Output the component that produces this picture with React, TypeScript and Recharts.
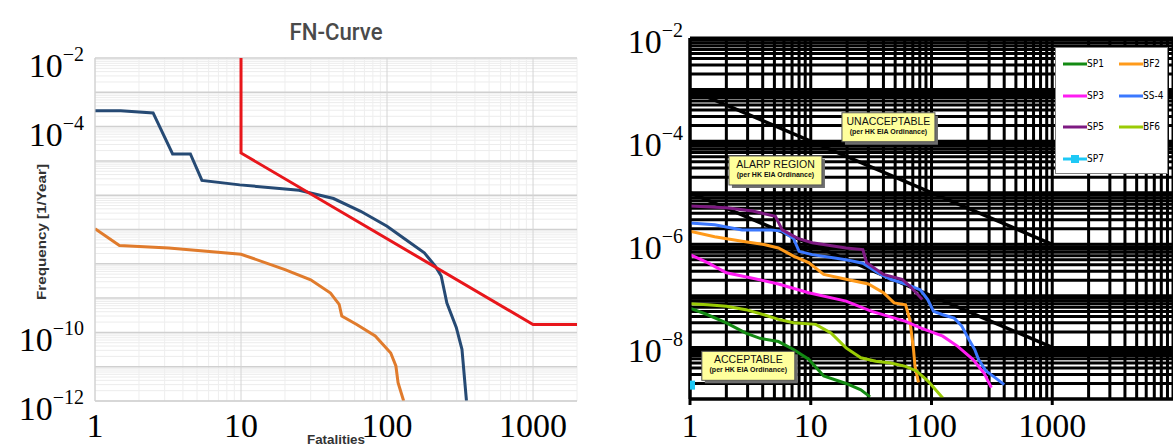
import {
  LineChart,
  Line,
  XAxis,
  YAxis,
  ReferenceLine,
  ReferenceDot,
  Legend,
} from "recharts"

const serif = "'Liberation Serif', 'DejaVu Serif', serif"
const sans = "'Liberation Sans', Arial, sans-serif"
const narrow = "'Liberation Sans Narrow', 'DejaVu Sans Condensed', 'Liberation Sans', sans-serif"

// ---- left panel: FN-Curve ----
const leftXTicks = [1, 10, 100, 1000]
const leftYTicks = [1e-2, 1e-4, 1e-10, 1e-12]

const criterionN = [10, 10, 1000, 2000]
const criterionF = [1e-2, 1.7e-5, 1.7e-10, 1.7e-10]

const blueN = [1, 1.5, 2.5, 3.4, 4.5, 5.4, 9.8, 25, 43, 66, 100, 134, 180, 214, 235, 257, 298, 326, 350]
const blueF = [2.9e-4, 2.9e-4, 2.5e-4, 1.6e-5, 1.6e-5, 2.7e-6, 2.0e-6, 1.4e-6, 8e-7, 3.4e-7, 1.25e-7, 5.1e-8, 2.1e-8, 8.5e-9, 4.4e-9, 7.2e-10, 1.4e-10, 3.2e-11, 1e-12]

const orangeN = [1, 1.47, 3.2, 10, 20, 30, 41, 47, 49, 62, 83, 106, 115, 119, 130]
const orangeF = [1.05e-7, 3.4e-8, 2.9e-8, 1.9e-8, 6.8e-9, 3.4e-9, 1.4e-9, 6.6e-10, 3e-10, 1.7e-10, 7.9e-11, 2.5e-11, 1.05e-11, 3.4e-12, 1e-12]

// ---- right panel: societal risk vs HK EIA criteria ----
const rightXTicks = [1, 10, 100, 1000]
const rightYTicks = [1e-2, 1e-4, 1e-6, 1e-8]

const upperN = [1, 1000]
const upperF = [1e-3, 1e-6]
const lowerN = [1, 1000]
const lowerF = [1e-5, 1e-8]

const sp1N = [1, 1.4, 2.0, 2.9, 3.8, 5.4, 7.2, 9.6, 12.8, 19.6, 26, 31]
const sp1F = [5.8e-8, 4.3e-8, 3e-8, 1.9e-8, 1.5e-8, 1.3e-8, 9.1e-9, 5.9e-9, 2.8e-9, 2e-9, 1.5e-9, 1.1e-9]
const bf2N = [1, 1.6, 2.7, 4.1, 5.4, 7.2, 9.6, 12.8, 19.6, 30, 40, 49, 61, 66, 71, 73, 78]
const bf2F = [1.8e-6, 1.4e-6, 1.15e-6, 9.9e-7, 8.5e-7, 5.9e-7, 4.4e-7, 2.6e-7, 2.1e-7, 1.7e-7, 1.15e-7, 7.3e-8, 6.7e-8, 3.5e-8, 9.1e-9, 4.3e-9, 2.1e-9]
const sp3N = [1, 1.4, 2.0, 3.3, 5.4, 9.6, 19.6, 32, 61, 81, 124, 165, 220, 272, 313]
const sp3F = [6.3e-7, 4.4e-7, 2.8e-7, 2.2e-7, 1.7e-7, 1.15e-7, 7.9e-8, 5e-8, 3.2e-8, 2.4e-8, 1.65e-8, 1.05e-8, 5.9e-9, 3.2e-9, 1.66e-9]
const ss4N = [1, 1.6, 2.7, 4.7, 5.8, 7.2, 8.0, 10.3, 19.6, 27, 37, 46, 61, 81, 93, 104, 124, 154, 178, 205, 228, 245, 283, 336, 400]
const ss4F = [2.6e-6, 2.4e-6, 1.9e-6, 1.9e-6, 1.8e-6, 1.3e-6, 7.3e-7, 6.3e-7, 5e-7, 4.3e-7, 2.7e-7, 2.1e-7, 1.7e-7, 1.3e-7, 8.5e-8, 5e-8, 4.3e-8, 3.7e-8, 2.6e-8, 1.4e-8, 9.1e-9, 5.9e-9, 3.5e-9, 2.6e-9, 1.9e-9]
const sp5N = [1, 2.0, 3.3, 5.1, 5.8, 7.8, 10.3, 19.6, 27, 29, 40, 57, 66, 84]
const sp5F = [5.5e-6, 5.1e-6, 4.4e-6, 3.5e-6, 1.9e-6, 1.3e-6, 1.07e-6, 8.5e-7, 7.9e-7, 4.4e-7, 2.6e-7, 2.1e-7, 1.55e-7, 8.5e-8]
const bf6N = [1, 1.4, 2.0, 2.9, 4.1, 5.4, 7.2, 11, 14.7, 19.6, 26, 34.5, 46, 61, 75, 94, 124]
const bf6F = [7e-8, 6.7e-8, 6.3e-8, 5.4e-8, 4.3e-8, 3.5e-8, 3e-8, 2.8e-8, 1.9e-8, 9.8e-9, 6.3e-9, 5.4e-9, 5e-9, 4.3e-9, 3.5e-9, 2.2e-9, 1.05e-9]
const sp7N = [1]
const sp7F = [1.9e-9]

const seriesNames = ["SP1", "BF2", "SP3", "SS-4", "SP5", "BF6", "SP7"]
const seriesColors = ["#138a13", "#ff9a1a", "#ff1cf2", "#3b78ff", "#7e1a82", "#9acb05", "#1ec8f5"]

const noteTitles = ["UNACCEPTABLE", "ALARP REGION", "ACCEPTABLE"]
const noteN = [44, 5.1, 3.04]
const noteF = [1.86e-4, 2.7e-5, 4.4e-9]

const zip = (n: number[], f: number[]) => n.map((v, i) => ({ n: v, f: f[i] }))

const rightSeries = [
  zip(sp1N, sp1F),
  zip(bf2N, bf2F),
  zip(sp3N, sp3F),
  zip(ss4N, ss4F),
  zip(sp5N, sp5F),
  zip(bf6N, bf6F),
  zip(sp7N, sp7F),
]

// log grid helpers (axis scaffolding only)
const decadeLines = (lo: number, hi: number) => {
  const out: number[] = []
  for (let e = lo; e <= hi; e++) out.push(10 ** e)
  return out
}
const minorLines = (lo: number, hi: number, max = Infinity) => {
  const out: number[] = []
  for (let e = lo; e < hi; e++) for (let k = 2; k <= 9; k++) if (k * 10 ** e <= max) out.push(k * 10 ** e)
  return out
}

function PowerTick(props: any) {
  const { x, y, payload, dy } = props
  const e = Math.round(Math.log10(payload.value))
  return (
    <text x={x} y={y + dy} textAnchor="end" fontFamily={serif} fontSize={34} fill="#000">
      10
      <tspan dy={-16} fontSize={20}>{`\u2212${-e}`}</tspan>
    </text>
  )
}

function PlainTick(props: any) {
  const { x, y, payload, dy } = props
  return (
    <text x={x} y={y + dy} textAnchor="middle" fontFamily={serif} fontSize={34} fill="#000">
      {payload.value}
    </text>
  )
}

function NoteBox(props: any) {
  const { cx, cy, title } = props
  const w = 93
  const h = 29
  const x0 = cx - w / 2
  const y0 = cy - h / 2
  return (
    <g>
      <rect x={x0 + 3} y={y0 + 3} width={w} height={h} fill="#6e6e6e" />
      <rect x={x0} y={y0} width={w} height={h} fill="#ffff9c" stroke="#555" strokeWidth={1} />
      <text x={cx} y={y0 + 12} textAnchor="middle" fontFamily={sans} fontSize={10.5} fill="#111">
        {title}
      </text>
      <text x={cx} y={y0 + 21} textAnchor="middle" fontFamily={sans} fontSize={7} fontWeight="bold" fill="#111">
        (per HK EIA Ordinance)
      </text>
    </g>
  )
}

function KeyBox(props: any) {
  const items = (props.payload || [])
    .filter((p: any) => seriesNames.includes(p.value))
    .sort((a: any, b: any) => seriesNames.indexOf(a.value) - seriesNames.indexOf(b.value))
  return (
    <div
      style={{
        position: "relative",
        width: 113,
        height: 127,
        background: "#fff",
        border: "1px solid #808080",
        boxSizing: "border-box",
      }}
    >
      {items.map((it: any, i: number) => {
        const col = i % 2
        const row = Math.floor(i / 2)
        return (
          <div
            key={it.value}
            style={{
              position: "absolute",
              left: 7 + col * 56,
              top: 9 + row * 31.5,
              height: 14,
              display: "flex",
              alignItems: "center",
            }}
          >
            <svg width={24} height={10}>
              <line x1={0} x2={24} y1={5} y2={5} stroke={it.color} strokeWidth={3} />
              {it.value === "SP7" && <rect x={8} y={1} width={8} height={8} fill={it.color} />}
            </svg>
            <span style={{ fontFamily: narrow, fontSize: 10, color: "#000", lineHeight: "14px" }}>{it.value}</span>
          </div>
        )
      })}
    </div>
  )
}

function SquareDot(props: any) {
  const { cx, cy, stroke } = props
  if (cx == null || cy == null) return null
  return <rect x={cx - 4} y={cy - 4} width={9} height={9} fill={stroke} />
}

export default function App() {
  return (
    <div style={{ position: "absolute", left: 0, top: 0, width: 1173, height: 446, background: "#fff", overflow: "hidden" }}>
      <div style={{ position: "absolute", left: 0, top: 0 }}>
        <LineChart width={590} height={446} margin={{ top: 58, right: 13, bottom: 0, left: 0 }}>
          <XAxis
            dataKey="n"
            type="number"
            scale="log"
            domain={[1, 2000]}
            allowDataOverflow
            ticks={leftXTicks}
            height={45}
            tickSize={0}
            tickMargin={0}
            axisLine={{ stroke: "#d2d2d2" }}
            tickLine={false}
            tick={(p: any) => <PlainTick {...p} dy={36} />}
          />
          <YAxis
            dataKey="f"
            type="number"
            scale="log"
            domain={[1e-12, 1e-2]}
            allowDataOverflow
            ticks={leftYTicks}
            width={95}
            tickSize={0}
            tickMargin={11}
            axisLine={{ stroke: "#d2d2d2" }}
            tickLine={false}
            tick={(p: any) => <PowerTick {...p} dy={19} />}
          />
          {minorLines(-12, -2).map((v) => (
            <ReferenceLine key={`hm${v}`} y={v} stroke="#ececec" strokeWidth={1} />
          ))}
          {minorLines(0, 4, 2000).map((v) => (
            <ReferenceLine key={`vm${v}`} x={v} stroke="#eeeeee" strokeWidth={1} />
          ))}
          {decadeLines(-12, -2).map((v) => (
            <ReferenceLine key={`hM${v}`} y={v} stroke="#d0d0d0" strokeWidth={1.5} />
          ))}
          {leftXTicks.map((v) => (
            <ReferenceLine key={`vM${v}`} x={v} stroke="#d4d4d4" strokeWidth={1} />
          ))}
          <Line data={zip(orangeN, orangeF)} dataKey="f" stroke="#e07b2c" strokeWidth={3} dot={false} isAnimationActive={false} />
          <Line data={zip(blueN, blueF)} dataKey="f" stroke="#264a74" strokeWidth={3} dot={false} isAnimationActive={false} />
          <Line data={zip(criterionN, criterionF)} dataKey="f" stroke="#e8161b" strokeWidth={3} dot={false} isAnimationActive={false} />
        </LineChart>
      </div>

      <div style={{ position: "absolute", left: 590, top: 0 }}>
        <LineChart width={583} height={446} margin={{ top: 38, right: 0, bottom: 0, left: 0 }}>
          <XAxis
            dataKey="n"
            type="number"
            scale="log"
            domain={[1, 10000]}
            allowDataOverflow
            ticks={rightXTicks}
            height={47}
            tickSize={6}
            tickMargin={0}
            axisLine={{ stroke: "#000", strokeWidth: 3 }}
            tickLine={{ stroke: "#000", strokeWidth: 3 }}
            tick={(p: any) => <PlainTick {...p} dy={32} />}
          />
          <YAxis
            dataKey="f"
            type="number"
            scale="log"
            domain={[1e-9, 1e-2]}
            allowDataOverflow
            ticks={rightYTicks}
            width={100}
            tickSize={0}
            tickMargin={7}
            axisLine={{ stroke: "#000", strokeWidth: 3 }}
            tickLine={false}
            tick={(p: any) => <PowerTick {...p} dy={15} />}
          />
          {[...decadeLines(-9, -2), ...minorLines(-9, -2)].map((v) => (
            <ReferenceLine key={`h${v}`} y={v} stroke="#000" strokeWidth={3} />
          ))}
          {[...decadeLines(0, 4), ...minorLines(0, 4)].map((v) => (
            <ReferenceLine key={`v${v}`} x={v} stroke="#000" strokeWidth={3} />
          ))}
          <Line data={zip(upperN, upperF)} dataKey="f" stroke="#000" strokeWidth={3.5} dot={false} legendType="none" isAnimationActive={false} />
          <Line data={zip(lowerN, lowerF)} dataKey="f" stroke="#000" strokeWidth={3.5} dot={false} legendType="none" isAnimationActive={false} />
          {rightSeries.map((d, i) => (
            <Line
              key={seriesNames[i]}
              name={seriesNames[i]}
              data={d}
              dataKey="f"
              stroke={seriesColors[i]}
              strokeWidth={3}
              dot={seriesNames[i] === "SP7" ? <SquareDot /> : false}
              isAnimationActive={false}
            />
          ))}
          {noteTitles.map((t, i) => (
            <ReferenceDot
              key={t}
              x={noteN[i]}
              y={noteF[i]}
              r={0}
              shape={(p: any) => <NoteBox {...p} title={t} />}
            />
          ))}
          <Legend
            layout="horizontal"
            verticalAlign="middle"
            align="center"
            content={<KeyBox />}
            wrapperStyle={{ left: 465, top: 47, width: 113, height: 127 }}
          />
        </LineChart>
      </div>

      <svg width={1173} height={446} style={{ position: "absolute", left: 0, top: 0, pointerEvents: "none" }}>
        <text x={336} y={40} textAnchor="middle" fontFamily="Roboto, sans-serif" fontWeight={500} fontSize={23} fill="#4a4a4a" textLength={93} lengthAdjust="spacingAndGlyphs">
          FN-Curve
        </text>
        <text
          x={0}
          y={0}
          transform="translate(46 232) rotate(-90)"
          textAnchor="middle"
          fontFamily={sans}
          fontWeight="bold"
          fontSize={12}
          fill="#333"
          textLength={136}
          lengthAdjust="spacingAndGlyphs"
        >
          Frequency [1/Year]
        </text>
        <text x={336} y={444} textAnchor="middle" fontFamily={sans} fontWeight="bold" fontSize={13} fill="#333" textLength={58} lengthAdjust="spacingAndGlyphs">
          Fatalities
        </text>
      </svg>
    </div>
  )
}
